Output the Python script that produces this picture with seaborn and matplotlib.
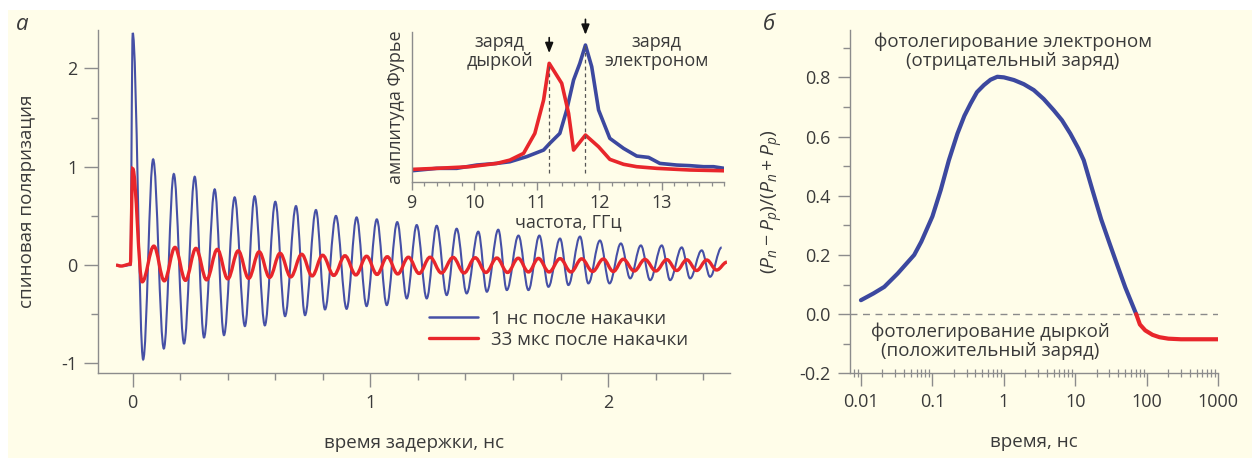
import matplotlib
matplotlib.use("Agg")
import matplotlib.pyplot as plt
from matplotlib.patches import Rectangle, PathPatch
from matplotlib.path import Path
from matplotlib.lines import Line2D
import numpy as np
import pandas as pd
import seaborn as sns

# ---------------- data ----------------
# panel a: time-resolved spin polarization, extrema of the oscillations (ns, a.u.)
blue_lead_t = [-0.07, -0.04, -0.01, 0.0]
blue_lead_v = [0.0, -0.01, 0.0, 2.36]
blue_peak_t = [0.086, 0.173, 0.261, 0.345, 0.429, 0.513, 0.600, 0.687, 0.771, 0.855,
               0.942, 1.027, 1.113, 1.195, 1.279, 1.363, 1.454, 1.538, 1.623, 1.711,
               1.798, 1.882, 1.966, 2.054, 2.138, 2.226, 2.310, 2.394, 2.478]
blue_peak_v = [1.075, 0.926, 0.898, 0.770, 0.689, 0.700, 0.644, 0.600, 0.560, 0.500,
               0.485, 0.465, 0.437, 0.407, 0.40, 0.37, 0.34, 0.36, 0.30, 0.30,
               0.27, 0.29, 0.25, 0.22, 0.20, 0.20, 0.18, 0.15, 0.18]
blue_trough_t = [0.044, 0.131, 0.216, 0.300, 0.384, 0.472, 0.556, 0.641, 0.725, 0.809,
                 0.900, 0.984, 1.069, 1.153, 1.237, 1.321, 1.405, 1.490, 1.574, 1.665,
                 1.749, 1.833, 1.917, 2.006, 2.093, 2.177, 2.261, 2.345, 2.429]
blue_trough_v = [-0.959, -0.848, -0.797, -0.736, -0.712, -0.620, -0.613, -0.519, -0.509, -0.451,
                 -0.445, -0.417, -0.407, -0.339, -0.339, -0.305, -0.288, -0.271, -0.254, -0.254,
                 -0.221, -0.203, -0.186, -0.186, -0.135, -0.153, -0.153, -0.135, -0.119]

red_lead_t = [-0.07, -0.05, -0.01, 0.0]
red_lead_v = [0.0, -0.01, 0.01, 0.98]
red_peak_t = [0.089, 0.178, 0.266, 0.356, 0.444, 0.532, 0.620, 0.711, 0.799, 0.893,
              0.984, 1.071, 1.160, 1.251, 1.348, 1.441, 1.532, 1.622, 1.707, 1.798,
              1.889, 1.980, 2.064, 2.155, 2.247, 2.331, 2.415]
red_peak_v = [0.193, 0.180, 0.170, 0.160, 0.145, 0.135, 0.120, 0.110, 0.100, 0.095,
              0.090, 0.085, 0.080, 0.080, 0.078, 0.075, 0.072, 0.070, 0.068, 0.066,
              0.064, 0.062, 0.060, 0.058, 0.056, 0.054, 0.052]
red_trough_t = [0.040, 0.133, 0.222, 0.311, 0.400, 0.488, 0.576, 0.665, 0.755, 0.846,
                0.939, 1.028, 1.115, 1.205, 1.299, 1.394, 1.486, 1.577, 1.665, 1.752,
                1.844, 1.935, 2.022, 2.110, 2.201, 2.289, 2.373, 2.457]
red_trough_v = [-0.170, -0.160, -0.155, -0.150, -0.140, -0.135, -0.125, -0.120, -0.110, -0.105,
                -0.100, -0.095, -0.090, -0.085, -0.080, -0.080, -0.075, -0.075, -0.070, -0.070,
                -0.070, -0.065, -0.065, -0.060, -0.060, -0.055, -0.055, -0.050]
red_end_t = [2.50]
red_end_v = [0.03]

series_labels = ["1 нс после накачки", "33 мкс после накачки"]

# inset: Fourier amplitude (GHz, a.u.)
fft_blue_f = [9.0, 9.4, 9.72, 10.04, 10.36, 10.57, 10.84, 11.11, 11.21, 11.37, 11.48, 11.59,
              11.69, 11.78, 11.88, 11.99, 12.17, 12.39, 12.6, 12.79, 12.97, 13.24, 13.45,
              13.67, 13.83, 14.0]
fft_blue_a = [0.073, 0.089, 0.089, 0.111, 0.122, 0.133, 0.167, 0.211, 0.256, 0.322, 0.478,
              0.678, 0.789, 0.911, 0.767, 0.478, 0.289, 0.222, 0.171, 0.162, 0.122, 0.111,
              0.107, 0.100, 0.100, 0.089]
fft_red_f = [9.0, 9.4, 9.93, 10.36, 10.57, 10.79, 10.97, 11.11, 11.2, 11.4, 11.51, 11.59,
             11.78, 11.99, 12.17, 12.39, 12.6, 12.92, 13.45, 14.0]
fft_red_a = [0.082, 0.089, 0.100, 0.122, 0.144, 0.189, 0.322, 0.544, 0.789, 0.656, 0.456,
             0.211, 0.311, 0.233, 0.149, 0.116, 0.100, 0.089, 0.078, 0.073]
hole_freq = 11.2
electron_freq = 11.78
inset_ticks = [9, 10, 11, 12, 13]

# panel b: (Pn - Pp)/(Pn + Pp) vs time (ns)
b_blue_t = [0.01, 0.015, 0.0212, 0.0326, 0.0556, 0.07, 0.1, 0.131, 0.17, 0.224, 0.28,
            0.343, 0.42, 0.526, 0.65, 0.809, 1.0, 1.38, 1.9, 2.62, 3.6, 4.98, 6.5, 8.5,
            11.0, 13.1, 17.3, 23.0, 30.0, 38.0, 50.0, 71.0]
b_blue_v = [0.047, 0.070, 0.092, 0.137, 0.200, 0.245, 0.330, 0.420, 0.520, 0.610, 0.670,
            0.712, 0.750, 0.774, 0.792, 0.802, 0.800, 0.791, 0.777, 0.757, 0.727, 0.689,
            0.655, 0.610, 0.560, 0.520, 0.420, 0.320, 0.240, 0.170, 0.090, 0.0]
b_red_t = [71.0, 80.0, 95.0, 120.0, 150.0, 200.0, 300.0, 1000.0]
b_red_v = [0.0, -0.035, -0.055, -0.070, -0.078, -0.083, -0.085, -0.085]
b_xticks = [0.01, 0.1, 1, 10, 100, 1000]
b_xticklabels = ["0.01", "0.1", "1", "10", "100", "1000"]
b_yticks = [-0.2, 0.0, 0.2, 0.4, 0.6, 0.8]
b_yticklabels = ["-0.2", "0.0", "0.2", "0.4", "0.6", "0.8"]

# ---------------- style ----------------
CREAM = "#FFFDE9"
BLUE = "#4650A6"
BLUE_B = "#3C489F"
RED = "#E8262B"
TXT = "#3a3a3a"
SPINE = "#8c8c8c"

sns.set_theme(style="ticks")
plt.rcParams["font.family"] = ["Open Sans", "DejaVu Sans"]
plt.rcParams["mathtext.fontset"] = "custom"
plt.rcParams["mathtext.rm"] = "Open Sans"
plt.rcParams["mathtext.it"] = "Open Sans:italic"
plt.rcParams["text.color"] = TXT
plt.rcParams["axes.labelcolor"] = TXT
plt.rcParams["xtick.color"] = SPINE
plt.rcParams["ytick.color"] = SPINE
plt.rcParams["xtick.labelcolor"] = TXT
plt.rcParams["ytick.labelcolor"] = TXT

fig = plt.figure(figsize=(12.52, 4.58), dpi=100, facecolor="white")
fig.patches.append(Rectangle((8 / 1252, 0), 1, 448 / 458, transform=fig.transFigure,
                             facecolor=CREAM, edgecolor="none", zorder=-10))


def style_axes(ax):
    ax.set_facecolor("none")
    for s in ["top", "right"]:
        ax.spines[s].set_visible(False)
    for s in ["left", "bottom"]:
        ax.spines[s].set_color(SPINE)
        ax.spines[s].set_linewidth(1.0)


def smooth_path(t, v):
    verts = [(t[0], v[0])]
    codes = [Path.MOVETO]
    for i in range(len(t) - 1):
        d = (t[i + 1] - t[i]) * 0.3642
        verts += [(t[i] + d, v[i]), (t[i + 1] - d, v[i + 1]), (t[i + 1], v[i + 1])]
        codes += [Path.CURVE4] * 3
    return Path(verts, codes)


def merged(*pairs):
    df = pd.concat([pd.DataFrame({"t": t, "v": v}) for t, v in pairs]).sort_values("t")
    return df["t"].to_list(), df["v"].to_list()


# ---------------- panel a ----------------
ax = fig.add_axes([98 / 1252, 1 - 373.3 / 458, 632 / 1252, 343.3 / 458])
style_axes(ax)
bt, bv = merged((blue_lead_t, blue_lead_v), (blue_peak_t, blue_peak_v),
                (blue_trough_t, blue_trough_v))
rt, rv = merged((red_lead_t, red_lead_v), (red_peak_t, red_peak_v),
                (red_trough_t, red_trough_v), (red_end_t, red_end_v))
ax.add_patch(PathPatch(smooth_path(bt, bv), facecolor="none", edgecolor=BLUE, lw=1.5,
                       transform=ax.transData, zorder=3))
ax.add_patch(PathPatch(smooth_path(rt, rv), facecolor="none", edgecolor=RED, lw=2.4,
                       transform=ax.transData, zorder=4))
ax.set_xlim(-0.146, 2.513)
ax.set_ylim(-1.10, 2.39)
ax.set_xticks([0, 1, 2])
ax.set_xticklabels(["0", "1", "2"])
ax.set_xticks([0.2, 0.4, 0.6, 0.8, 1.2, 1.4, 1.6, 1.8, 2.2, 2.4], minor=True)
ax.set_yticks([-1, 0, 1, 2])
ax.set_yticklabels(["-1", "0", "1", "2"])
ax.set_yticks([-0.5, 0.5, 1.5], minor=True)
ax.tick_params(which="major", length=10, width=1.0, labelsize=13, pad=5)
ax.tick_params(which="minor", length=5, width=1.0)
ax.set_xlabel("время задержки, нс", fontsize=13.5, labelpad=16)
ax.set_ylabel("спиновая поляризация", fontsize=13.5, labelpad=18)
handles = [Line2D([], [], color=BLUE, lw=1.8), Line2D([], [], color=RED, lw=2.4)]
ax.legend(handles, series_labels, loc="upper left", bbox_to_anchor=(0.512, 0.207),
          frameon=False, fontsize=13.5, handlelength=2.6, handletextpad=0.7,
          labelspacing=0.15, borderaxespad=0)

# ---------------- inset ----------------
axi = fig.add_axes([411.7 / 1252, 1 - 181.7 / 458, 312.5 / 1252, 150 / 458])
style_axes(axi)
sns.lineplot(x=fft_blue_f, y=fft_blue_a, ax=axi, color=BLUE_B, lw=2.6, sort=False)
sns.lineplot(x=fft_red_f, y=fft_red_a, ax=axi, color=RED, lw=2.6, sort=False)
axi.set_xlim(9, 14)
axi.set_ylim(0, 1)
axi.set_xticks(inset_ticks)
axi.set_xticklabels([str(v) for v in inset_ticks])
axi.set_xticks(np.round(np.arange(9.2, 14.0, 0.2), 1), minor=True)
axi.set_yticks([])
axi.tick_params(which="major", length=6, width=1.0, labelsize=13, pad=3)
axi.tick_params(which="minor", length=3, width=0.9)
axi.set_xlabel("частота, ГГц", fontsize=13, labelpad=1)
axi.set_ylabel("амплитуда Фурье", fontsize=13, labelpad=5)
red_peak = max(fft_red_a)
blue_peak = max(fft_blue_a)
axi.plot([hole_freq, hole_freq], [0.055, red_peak], ls=(0, (3, 2.5)), color="#555", lw=0.9)
axi.plot([electron_freq, electron_freq], [0.055, blue_peak], ls=(0, (3, 2.5)), color="#555", lw=0.9)
axi.annotate("", xy=(hole_freq, red_peak + 0.05), xytext=(hole_freq, red_peak + 0.19),
             arrowprops=dict(arrowstyle="-|>,head_length=0.5,head_width=0.2", color="#111", lw=1.2),
             annotation_clip=False)
axi.annotate("", xy=(electron_freq, blue_peak + 0.05), xytext=(electron_freq, blue_peak + 0.19),
             arrowprops=dict(arrowstyle="-|>,head_length=0.5,head_width=0.2", color="#111", lw=1.2),
             annotation_clip=False)
axi.text(10.41, 0.87, "заряд\nдыркой", ha="center", va="center", fontsize=13, linespacing=1.05)
axi.text(12.92, 0.87, "заряд\nэлектроном", ha="center", va="center", fontsize=13, linespacing=1.05)

# ---------------- panel b ----------------
axb = fig.add_axes([850 / 1252, 1 - 373.3 / 458, 368.3 / 1252, 343.3 / 458])
style_axes(axb)
axb.set_xscale("log")
axb.axhline(0, color="#8a8a8a", lw=1.0, ls=(0, (5, 4)), zorder=1)
sns.lineplot(x=b_blue_t, y=b_blue_v, ax=axb, color=BLUE_B, lw=3.0)
sns.lineplot(x=b_red_t, y=b_red_v, ax=axb, color=RED, lw=3.0)
axb.set_xlim(0.00703, 1000)
axb.set_ylim(-0.2, 0.96)
axb.set_xticks(b_xticks)
axb.set_xticklabels(b_xticklabels)
axb.set_yticks(b_yticks)
axb.set_yticklabels(b_yticklabels)
axb.set_yticks([-0.1, 0.1, 0.3, 0.5, 0.7, 0.9], minor=True)
axb.tick_params(which="major", length=9, width=1.0, labelsize=13, pad=5)
axb.tick_params(axis="y", which="minor", length=5, width=1.0)
axb.tick_params(axis="x", which="minor", length=6, width=0.9, direction="inout")
axb.set_xlabel("время, нс", fontsize=13.5, labelpad=16)
axb.set_ylabel(r"$(P_n - P_p)/(P_n + P_p)$", fontsize=14, labelpad=10)
axb.text(0.4426, 0.939, "фотолегирование электроном\n(отрицательный заряд)",
         transform=axb.transAxes, ha="center", va="center", fontsize=13.5, linespacing=1.05)
axb.text(0.380, 0.094, "фотолегирование дыркой\n(положительный заряд)",
         transform=axb.transAxes, ha="center", va="center", fontsize=13.5, linespacing=1.05)

# panel letters
fig.text(22 / 1252, 1 - 25 / 458, "а", fontsize=16, style="italic", ha="center", va="center")
fig.text(769 / 1252, 1 - 24 / 458, "б", fontsize=16, style="italic", ha="center", va="center")

fig.savefig("out.png", dpi=100, facecolor=fig.get_facecolor())
